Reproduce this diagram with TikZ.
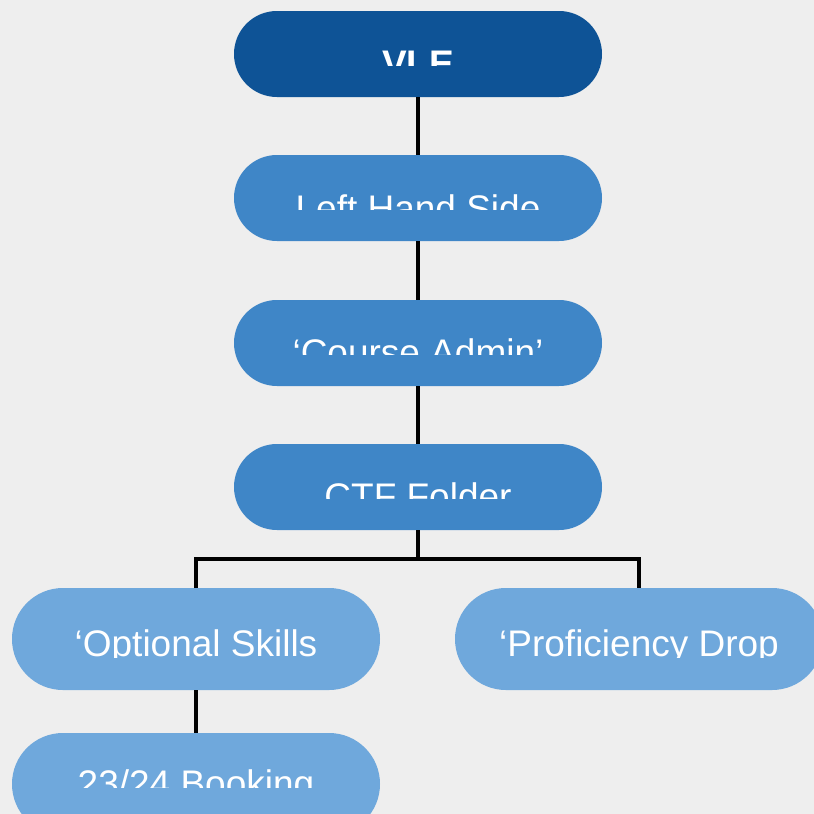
\documentclass[tikz,border=0pt]{standalone}
\usepackage{fontspec}
\setmainfont{Liberation Sans}
\definecolor{bg}{HTML}{EEEEEE}
\definecolor{darkblue}{HTML}{0E5396}
\definecolor{midblue}{HTML}{3F86C7}
\definecolor{lightblue}{HTML}{6FA8DC}
\begin{document}
\begin{tikzpicture}[x=1pt,y=-1pt,
  box/.style={rounded corners=42.9pt, minimum width=368pt, minimum height=86pt, inner sep=0pt, outer sep=0pt},
  bigbox/.style={rounded corners=50.9pt, minimum width=368pt, minimum height=102pt, inner sep=0pt, outer sep=0pt, fill=lightblue},
  lbl/.style={text=white, font=\fontsize{37}{44}\selectfont, anchor=base, inner sep=0pt},
  link/.style={line width=3.6pt, black}]
\clip (0,0) rectangle (814,814);
\fill[bg] (0,0) rectangle (814,814);
% boxes
\node[box, fill=darkblue] (vle) at (418,54) {};
\node[box, fill=midblue] (lhs) at (418,198) {};
\node[box, fill=midblue] (ca) at (418,343) {};
\node[box, fill=midblue] (ctf) at (418,487) {};
\node[bigbox] (opt) at (196,639) {};
\node[bigbox] (prof) at (639,639) {};
\node[bigbox] (book) at (196,784) {};
% connectors
\coordinate (split) at (418,558.7);
\draw[link] (vle.south) -- (lhs.north);
\draw[link] (lhs.south) -- (ca.north);
\draw[link] (ca.south) -- (ctf.north);
\draw[link] (ctf.south) -- (split);
\draw[link] (opt.north) |- (split) -| (prof.north);
\draw[link] (opt.south) -- (book.north);
% labels (clipped as in the reference)
\begin{scope}\clip (234,11) rectangle (602,65.5);
  \node[lbl, font=\fontsize{37}{44}\selectfont\bfseries] (vlet) at (418,76.5) {VLE};
\end{scope}
\begin{scope}\clip (234,155) rectangle (602,209.3);
  \node[lbl] (lhst) at (418,221.5) {Left Hand Side};
\end{scope}
\begin{scope}\clip (234,300) rectangle (602,354.7);
  \node[lbl] (cat) at (418,365.8) {‘Course Admin’};
\end{scope}
\begin{scope}\clip (234,444) rectangle (602,498.7);
  \node[lbl] (ctft) at (418,509.8) {CTF Folder};
\end{scope}
\begin{scope}\clip (12,588) rectangle (380,657);
  \node[lbl] (optt) at (196,656) {‘Optional Skills};
\end{scope}
\begin{scope}\clip (455,588) rectangle (823,657);
  \node[lbl] (proft) at (639,656.5) {‘Proficiency Drop};
\end{scope}
\begin{scope}\clip (12,733) rectangle (380,787);
  \node[lbl] (bookt) at (196,796.5) {23/24 Booking};
\end{scope}
\end{tikzpicture}
\end{document}
